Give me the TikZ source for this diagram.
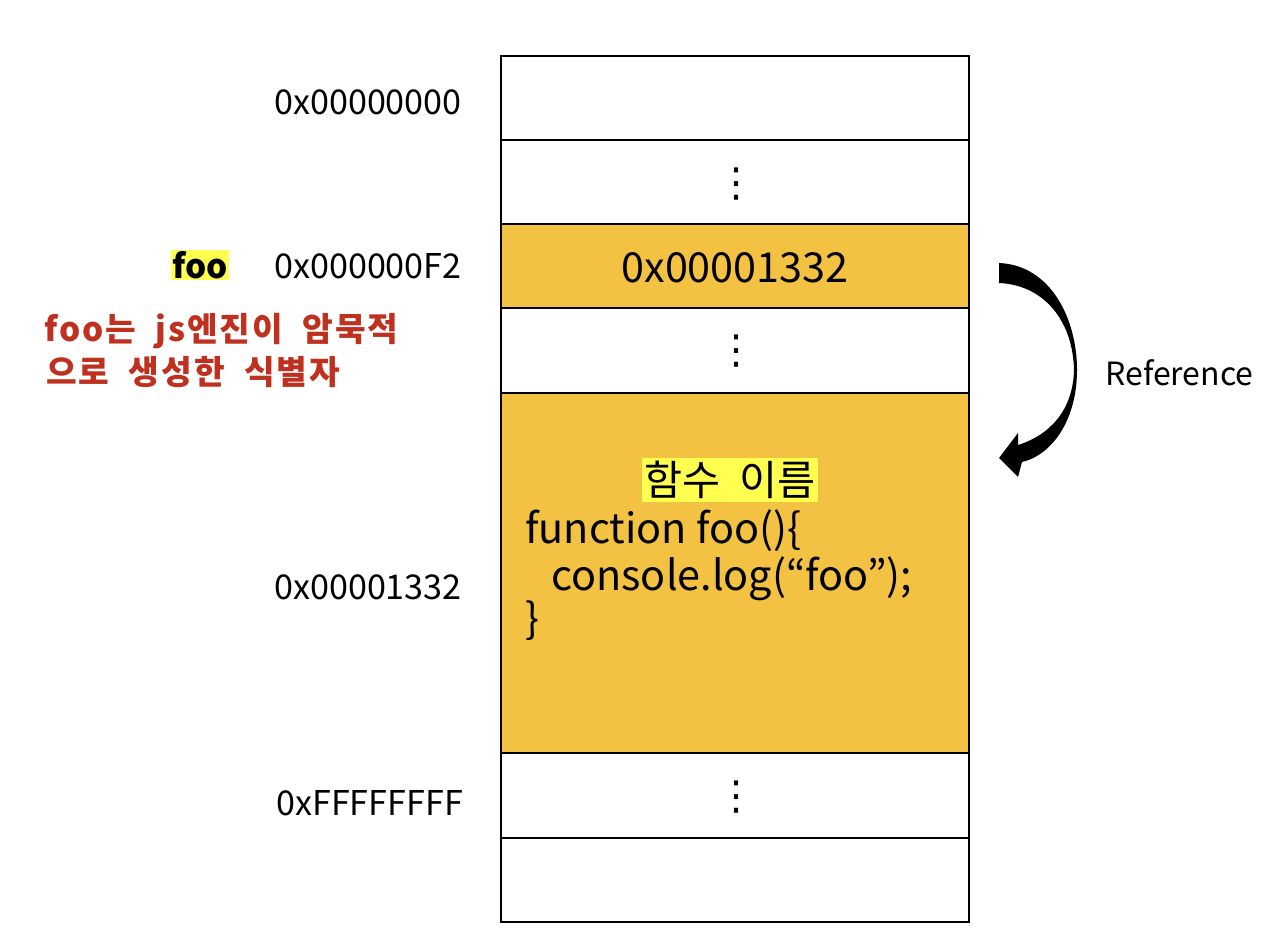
\documentclass[tikz,border=0pt]{standalone}
\usepackage{fontspec}
\setmainfont{Noto Sans CJK KR}
\newfontfamily\dotfont{DejaVu Sans}
\newfontfamily\notefont[LetterSpace=6,WordSpace=2]{Noto Sans CJK KR}
\definecolor{memfill}{HTML}{F4C242}
\definecolor{hl}{HTML}{FFFF50}
\definecolor{redtxt}{HTML}{C0301E}
\begin{document}
\begin{tikzpicture}[x=0.75pt,y=-0.75pt,
  cell/.style={draw=black,line width=1.5pt},
  addr/.style={font=\fontsize{25.6}{30}\selectfont,anchor=west,inner sep=0pt},
  vdot/.style={font=\dotfont\fontsize{30}{30}\selectfont,inner sep=0pt},
  codetxt/.style={font=\fontsize{31}{36}\selectfont,anchor=base west,inner sep=0pt},
  notetxt/.style={text=redtxt,font=\notefont\fontsize{25}{30}\selectfont\bfseries,anchor=west,inner sep=0pt}]
\useasboundingbox (0,0) rectangle (1288,942);
\fill[white] (0,0) rectangle (1288,942);
% memory cells
\draw[cell] (501,56) rectangle (969,140);
\draw[cell] (501,140) rectangle (969,224);
\draw[cell,fill=memfill] (501,224) rectangle (969,308);
\draw[cell] (501,308) rectangle (969,393);
\draw[cell,fill=memfill] (501,393) rectangle (969,753);
\draw[cell] (501,753) rectangle (969,838);
\draw[cell] (501,838) rectangle (969,922);
% dots
\node[vdot] (d1) at (736,184) {⋮};
\node[vdot] (d2) at (736,351) {⋮};
\node[vdot] (d3) at (736,797) {⋮};
% cell contents
\node[font=\fontsize{31}{36}\selectfont,inner sep=0pt] (val) at (735,268) {0x00001332};
\node[fill=hl,inner sep=2pt,font=\fontsize{31}{34}\selectfont] (fname) at (730,480) {함수~~이름};
\node[codetxt] (c1) at (525,543) {function foo()\{};
\node[codetxt] (c2) at (551,590) {console.log(“foo”);};
\node[codetxt] (c3) at (525,633) {\}};
% addresses
\node[addr] (a1) at (274,102) {0x00000000};
\node[addr] (a2) at (274,266) {0x000000F2};
\node[addr] (a3) at (274,587) {0x00001332};
\node[addr] (a4) at (276,803) {0xFFFFFFFF};
% foo
\node[fill=hl,inner sep=1pt,font=\fontsize{25}{30}\selectfont\bfseries,anchor=center] (foo) at (200,265) {foo};
\node[notetxt] (note1) at (44,331) {foo는 js엔진이 암묵적};
\node[notetxt] (note2) at (46,372) {으로 생성한 식별자};
% reference arrow
\fill[black] (999,263) .. controls (1050,265) and (1077,318) .. (1077,370)
  .. controls (1077,420) and (1052,455) .. (1022,462)
  -- (1018,477) -- (999,458) -- (1018,433) -- (1018,445)
  .. controls (1050,435) and (1073,410) .. (1074,370)
  .. controls (1073,322) and (1045,285) .. (999,283) -- cycle;
\node[font=\fontsize{24}{29}\selectfont,anchor=west,inner sep=0pt] (ref) at (1105,373) {Reference};
\end{tikzpicture}
\end{document}
